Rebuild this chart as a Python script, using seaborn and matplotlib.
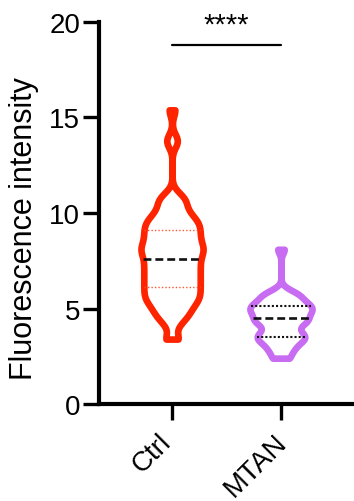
import numpy as np
import pandas as pd
import matplotlib
matplotlib.use('Agg')
import matplotlib.pyplot as plt
import matplotlib.transforms as mtransforms
import seaborn as sns

# groups and colours
groups = ['Ctrl', 'MTAN']
colors = ['#FF2400', '#C86CF2']
quart_colors = ['#FF5533', '#111111']

ctrl_values = [3.4, 4.1, 4.35, 4.6, 4.85, 5.1, 5.35, 5.6, 5.85, 6.1, 6.35, 6.6, 6.85, 7.1,
               7.35, 7.6, 7.85, 8.1, 8.35, 8.6, 8.85, 9.1, 9.35, 9.6, 9.85, 10.1, 10.35,
               10.6, 10.8, 11.0, 13.65, 13.9, 15.4]
ctrl_counts = [2, 1, 1, 2, 2, 2, 3, 3, 3, 3, 3, 3, 3, 3,
               3, 3, 3, 4, 3, 3, 3, 3, 3, 3, 2, 2, 1,
               2, 1, 1, 1, 1, 1]
mtan_values = [2.4, 2.75, 3.0, 3.25, 3.5, 3.75, 4.0, 4.25, 4.5, 4.75, 5.0, 5.25, 5.5, 5.75, 6.0, 8.1]
mtan_counts = [2, 2, 2, 3, 4, 3, 2, 4, 4, 4, 5, 4, 3, 3, 1, 1]
bandwidths = [0.33, 0.22]

sig_y = 18.8
sig_label = '****'

sns.set_style('ticks', {'axes.edgecolor': 'black', 'xtick.color': 'black', 'ytick.color': 'black',
                        'text.color': 'black', 'axes.labelcolor': 'black'})
plt.rcParams['font.family'] = ['Liberation Sans', 'DejaVu Sans']

fig = plt.figure(figsize=(3.54, 5.02), dpi=100)
ax = fig.add_axes([0.2797, 0.1932, 0.7203, 0.761])

data = [(ctrl_values, ctrl_counts), (mtan_values, mtan_counts)]
for i, (g, (vals, cnts)) in enumerate(zip(groups, data)):
    obs = np.repeat(vals, cnts)
    df = pd.DataFrame({'group': g, 'value': obs})
    n0 = len(ax.lines)
    c0 = len(ax.collections)
    sns.violinplot(data=df, x='group', y='value', order=groups, color='white',
                   linecolor=colors[i], linewidth=4.8, saturation=1, cut=0,
                   inner='quart', density_norm='width', width=0.57,
                   bw_method=bandwidths[i] / np.std(obs, ddof=1), ax=ax)
    for coll in ax.collections[c0:]:
        coll.set_joinstyle('round')
    new = ax.lines[n0:]
    if len(new) == 3:
        q1, med, q3 = new
        for q in (q1, q3):
            q.set_color(quart_colors[i])
            if i == 0:
                q.set_linewidth(1.0)
                q.set_dashes([1, 1.5])
            else:
                q.set_linewidth(1.5)
                q.set_dashes([1, 1])
        med.set_color('#111111')
        med.set_linewidth(1.9)
        med.set_dashes([3.0, 1.5])

ax.set_xlim(-0.67, 1.67)
ax.set_ylim(0, 20)
ax.set_yticks([0, 5, 10, 15, 20])
sns.despine(ax=ax)
for s in ['left', 'bottom']:
    ax.spines[s].set_linewidth(3)
ax.tick_params(axis='both', length=11.5, width=2.4, labelsize=20)
ax.tick_params(axis='y', pad=2)
ax.tick_params(axis='x', pad=16.5)
ax.set_xticks([0, 1])
ax.set_xticklabels(groups, rotation=45, ha='right', va='baseline', rotation_mode='anchor')
# small sideways nudge of the rotated labels
for lab, dx in zip(ax.get_xticklabels(), [0, 5]):
    lab.set_transform(lab.get_transform() + mtransforms.ScaledTranslation(dx / 72, 0, fig.dpi_scale_trans))
ax.set_xlabel('')
ax.set_ylabel('Fluorescence intensity', fontsize=22)
ax.yaxis.set_label_coords(-0.235, 0.462)

# significance bar
ax.plot([0, 1], [sig_y, sig_y], color='black', lw=1.6, clip_on=False)
ax.text(0.5, 19.45, sig_label, ha='center', va='baseline', fontsize=21, clip_on=False)

fig.savefig('out.png', dpi=100)
